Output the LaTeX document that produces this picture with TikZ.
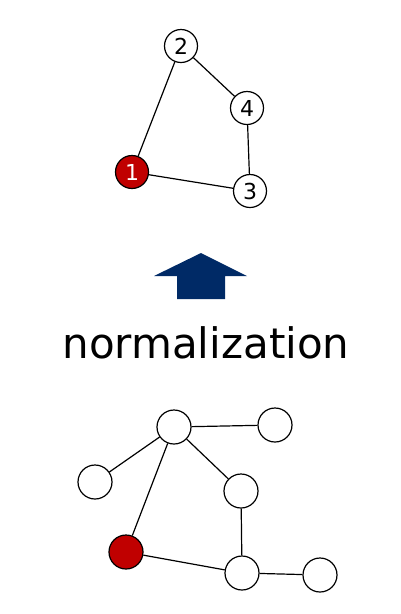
\documentclass[tikz,border=0pt]{standalone}
\usepackage{fontspec}
\setmainfont{DejaVu Sans}
\definecolor{navy}{RGB}{0,42,102}
\definecolor{startred}{RGB}{192,0,0}
\begin{document}
\begin{tikzpicture}[x=1pt, y=1pt,
		vertex/.style={draw, circle, line width=1.2pt, minimum size=33pt, inner sep=0pt, fill=white, font=\fontsize{22}{22}\selectfont},
		start/.style={vertex, fill=startred, text=white},
		edge/.style={line width=1.2pt}]
		\useasboundingbox (0,0) rectangle (400,-614);

		% Normalized graph
		\node[vertex] (two) at (181,-46) {2};
		\node[vertex] (four) at (247,-108) {4};
		\node[start] (one) at (132,-172) {1};
		\node[vertex] (three) at (250,-191) {3};

		\draw[edge] (one) -- (two);
		\draw[edge] (two) -- (four);
		\draw[edge] (four) -- (three);
		\draw[edge] (one) -- (three);

		% Arrow and label
		\fill[navy] (201,-253) -- (247,-276) -- (225,-276) -- (225,-299) -- (177,-299) -- (177,-276) -- (154,-276) -- cycle;
		\node[font=\fontsize{42}{42}\selectfont] (label) at (206,-343) {normalization};

		% Original graph
		\node[vertex, minimum size=34pt] (hub) at (174,-427) {};
		\node[vertex, minimum size=34pt] (leafa) at (275,-425) {};
		\node[vertex, minimum size=34pt] (leafb) at (95,-482) {};
		\node[vertex, minimum size=34pt] (mid) at (241,-491) {};
		\node[start, minimum size=34pt] (root) at (126,-552) {};
		\node[vertex, minimum size=34pt] (low) at (242,-573) {};
		\node[vertex, minimum size=34pt] (leafc) at (320,-575) {};

		\draw[edge] (hub) -- (leafa);
		\draw[edge] (hub) -- (leafb);
		\draw[edge] (hub) -- (mid);
		\draw[edge] (hub) -- (root);
		\draw[edge] (mid) -- (low);
		\draw[edge] (root) -- (low);
		\draw[edge] (low) -- (leafc);
	\end{tikzpicture}
\end{document}
